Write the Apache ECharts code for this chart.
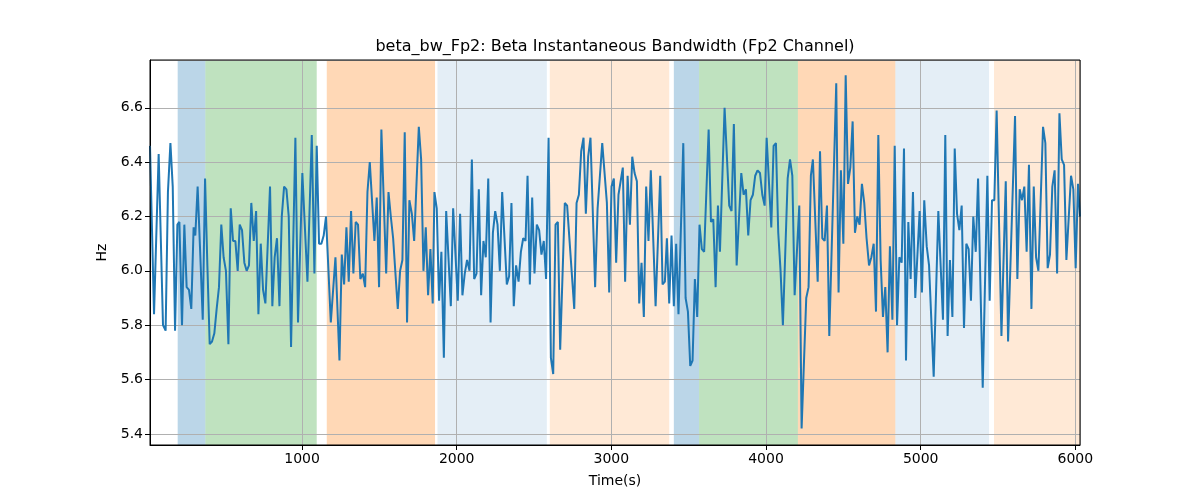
<!DOCTYPE html>
<html><head><meta charset="utf-8">
<script src="https://cdn.jsdelivr.net/npm/echarts@6/dist/echarts.min.js"></script>
<style>html,body{margin:0;padding:0;background:#fff}#c{width:1200px;height:500px}</style>
</head><body><div id="c"></div>
<script>
const times = [
17,43,73,101,118,133,149,164,179,194,207,224,239,254,269,284,299,310,325,340,358,373,388,403,418,433,448,463,478,493,508,524,539,554,569,584,
597,612,627,642,657,672,688,703,718,733,748,763,793,808,823,838,854,869,884,899,914,929,957,974,1002,1035,1063,1080,1095,1110,1125,1140,1155,1186,1216,1242,
1257,1272,1287,1302,1317,1332,1347,1362,1377,1393,1408,1423,1438,1468,1483,1498,1513,1544,1559,1574,1589,1619,1634,1649,1664,1679,1694,1710,1725,1755,1770,1785,1800,1815,1830,1845,
1856,1871,1886,1901,1917,1932,1962,1977,2007,2022,2037,2052,2067,2083,2098,2113,2128,2143,2158,2173,2188,2204,2219,2234,2249,2264,2279,2294,2324,2339,2354,2369,2384,2400,2415,2430,2445,
2458,2473,2488,2503,2518,2533,2548,2563,2578,2594,2609,2624,2639,2654,2669,2699,2714,2760,2775,2790,2805,2820,2835,2850,2865,2895,2911,2941,2971,2986,3001,3016,3031,3046,3074,
3089,3105,3120,3135,3150,3165,3180,3195,3210,3225,3240,3255,3286,3316,3331,3346,3359,3374,3389,3404,3419,3434,3465,3480,3495,3510,3525,3540,3555,3570,3585,3600,3629,3644,3659,3674,3689,3702,
3732,3762,3777,3792,3810,3840,3855,3870,3885,3900,3915,3930,3945,3961,3976,3991,4004,4034,4049,4064,4079,4094,4109,4140,4155,4170,4185,4215,4230,4260,4275,4290,4303,
4334,4349,4364,4379,4394,4409,4454,4469,4484,4500,4515,4530,4545,4560,4575,4590,4605,4620,4635,4650,4666,4681,4696,4711,4726,4741,4756,4771,4786,4801,4817,4832,4847,4862,4877,4892,4905,4920,
4935,4950,4965,4993,5008,5023,5039,5054,5084,5114,5144,5159,5174,5189,5205,5220,5235,5250,5265,5280,5295,5310,5325,5340,5356,5371,5401,5431,5446,5461,5476,5491,5522,
5550,5565,5610,5625,5640,5655,5670,5685,5700,5716,5731,5746,5761,5791,5806,5821,5836,5851,5866,5882,5897,5912,5927,5942,5972,5987,6002,6017,6030
];
const values = [
6.46,5.84,6.43,5.80,5.78,6.29,6.47,6.31,5.78,6.17,6.18,5.80,6.17,5.94,5.93,5.86,6.16,6.13,6.31,6.09,5.82,6.34,6.02,5.73,5.74,5.77,5.86,5.94,6.17,6.05,6.00,5.73,6.23,6.11,6.11,6.00,
6.17,6.15,6.03,6.00,6.02,6.25,6.11,6.22,5.84,6.10,5.93,5.88,6.31,5.87,6.05,6.12,5.87,6.20,6.31,6.30,6.20,5.72,6.49,5.81,6.36,5.96,6.50,5.99,6.46,6.10,6.10,6.13,6.20,5.81,6.05,5.67,
6.06,5.95,6.16,5.96,6.22,5.99,6.18,6.17,5.97,5.99,5.94,6.29,6.40,6.11,6.27,5.94,6.52,5.99,6.29,6.20,6.12,5.86,6.00,6.04,6.51,5.81,6.26,6.21,6.11,6.53,6.41,6.00,6.16,5.91,6.08,5.88,
6.29,6.23,5.89,6.07,5.68,6.22,5.87,6.23,5.89,6.21,5.91,5.99,6.04,6.00,6.41,5.97,5.99,6.30,5.91,6.11,6.05,6.34,5.81,6.14,6.22,6.17,6.00,6.29,5.95,5.98,6.25,5.87,6.02,5.96,6.07,6.12,6.11,
6.35,5.95,6.27,5.99,6.17,6.15,6.06,6.11,5.97,6.49,5.68,5.62,6.17,6.18,5.71,6.25,6.24,5.86,6.25,6.28,6.44,6.49,6.21,6.42,6.49,5.94,6.23,6.47,6.25,5.92,6.31,6.34,6.03,6.28,6.38,
5.96,6.35,6.17,6.42,6.36,6.33,5.88,6.03,5.83,6.31,6.11,6.37,5.87,6.35,5.95,5.96,6.12,5.88,6.13,5.87,6.10,5.84,6.47,5.90,5.85,5.65,5.67,5.97,5.83,6.17,6.08,6.07,6.52,6.18,6.19,5.94,6.24,6.07,
6.60,6.24,6.22,6.54,6.02,6.36,6.28,6.30,6.13,6.26,6.28,6.35,6.37,6.36,6.28,6.24,6.49,6.16,6.46,6.47,6.14,6.00,5.80,6.34,6.41,6.35,5.91,6.24,5.42,5.90,5.94,6.35,6.41,
5.96,6.44,6.12,6.11,6.24,5.76,6.69,5.92,6.37,6.10,6.72,6.32,6.38,6.55,6.14,6.20,6.17,6.32,6.25,6.12,6.02,6.05,6.10,5.85,6.50,6.04,5.83,5.94,5.70,6.09,5.82,6.46,5.80,6.05,6.03,6.45,5.67,6.18,
5.97,6.29,5.90,6.22,5.92,6.26,6.09,6.02,5.61,6.22,5.82,6.50,5.76,6.04,5.83,6.45,6.21,6.15,6.24,5.79,6.10,6.08,5.89,6.20,6.07,6.34,5.57,6.35,5.89,6.26,6.26,6.59,5.76,
6.33,5.74,6.57,5.97,6.30,6.26,6.31,6.07,6.39,5.86,6.31,6.05,6.00,6.53,6.47,6.01,6.06,6.31,6.37,5.99,6.58,6.41,6.39,6.04,6.35,6.30,6.01,6.32,6.20
];
const bandStarts = [196, 375, 1160, 1876, 2602, 3404, 3567, 4206, 4836, 5474];
const bandEnds   = [375, 1095, 1860, 2583, 3374, 3567, 4206, 4836, 5442, 6040];
const bandKinds  = ['A','B','C','D','E','A','B','C','D','E'];
const xRange = [17, 6030];
const yRange = [5.359, 6.776];

const kindColor = {
  A: 'rgba(31,119,180,0.3)',
  B: 'rgba(44,160,44,0.3)',
  C: 'rgba(255,127,14,0.3)',
  D: 'rgba(31,119,180,0.12)',
  E: 'rgba(255,127,14,0.17)'
};
const FONT = 'DejaVu Sans';
const chart = echarts.init(document.getElementById('c'), null, {renderer: 'canvas'});
const bands = bandStarts.map((s, i) => [
  {xAxis: s, itemStyle: {color: kindColor[bandKinds[i]]}},
  {xAxis: bandEnds[i]}
]);
chart.setOption({
  animation: false,
  backgroundColor: '#fff',
  title: {
    text: 'beta_bw_Fp2: Beta Instantaneous Bandwidth (Fp2 Channel)',
    left: 610, top: 34, textAlign: 'center',
    textStyle: {fontFamily: FONT, fontSize: 16, fontWeight: 'normal', color: '#000'}
  },
  grid: {left: 150, right: 120, top: 60, bottom: 55, show: true, z: 5,
         borderColor: '#000', borderWidth: 1, backgroundColor: 'transparent'},
  xAxis: {
    type: 'value', min: xRange[0], max: xRange[1], splitNumber: 6,
    minInterval: 1000, maxInterval: 1000, z: 2,
    name: 'Time(s)', nameLocation: 'middle', nameGap: 29,
    nameTextStyle: {fontFamily: FONT, fontSize: 14, color: '#000'},
    axisLine: {show: true, lineStyle: {color: '#000', width: 1}},
    axisTick: {show: true, length: 5, lineStyle: {color: '#000'}},
    axisLabel: {fontFamily: FONT, fontSize: 14, color: '#000', margin: 7,
                showMinLabel: false, showMaxLabel: false,
                formatter: v => String(Math.round(v))},
    splitLine: {show: true, lineStyle: {color: '#b0b0b0', width: 1}}
  },
  yAxis: {
    type: 'value', min: yRange[0], max: yRange[1], splitNumber: 7,
    minInterval: 0.2, maxInterval: 0.2, z: 2,
    name: 'Hz', nameLocation: 'middle', nameGap: 36,
    nameTextStyle: {fontFamily: FONT, fontSize: 14, color: '#000'},
    axisLine: {show: true, lineStyle: {color: '#000', width: 1}},
    axisTick: {show: true, length: 5, lineStyle: {color: '#000'}},
    axisLabel: {fontFamily: FONT, fontSize: 14, color: '#000', margin: 7,
                showMinLabel: false, showMaxLabel: false,
                formatter: v => v.toFixed(1)},
    splitLine: {show: true, lineStyle: {color: '#b0b0b0', width: 1}}
  },
  series: [
    {type: 'line', data: [], z: 1, silent: true,
     markArea: {silent: true, data: bands}},
    {type: 'line', z: 3, data: times.map((t, i) => [t, values[i]]),
     showSymbol: false, symbol: 'none',
     lineStyle: {color: '#1f77b4', width: 2}, itemStyle: {color: '#1f77b4'}}
  ]
});
</script>
</body></html>
